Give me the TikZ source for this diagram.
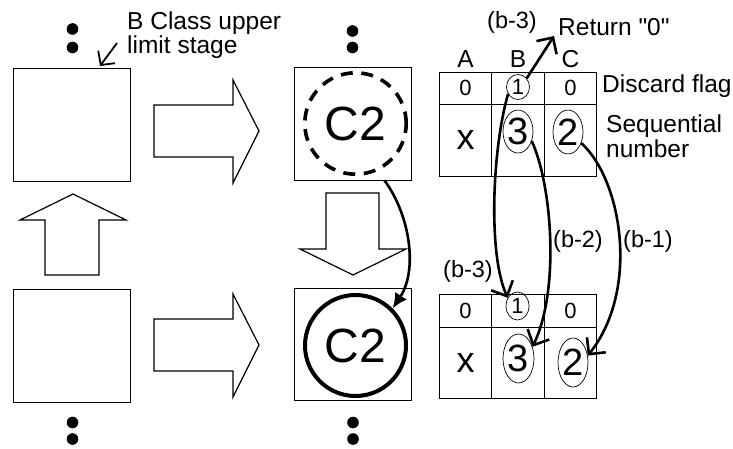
\documentclass[tikz,border=0pt]{standalone}
\usepackage{fontspec}
\setmainfont{Liberation Sans}
\usetikzlibrary{arrows.meta,shapes.geometric}
\newcommand\fsz[1]{\fontsize{#1}{#1}\selectfont}
\begin{document}
\begin{tikzpicture}[x=1pt,y=-1pt,
box/.style={draw,line width=0.9pt,minimum width=117pt,minimum height=113pt,inner sep=0},
cell/.style={draw,line width=0.9pt,minimum width=52.5pt,inner sep=0},
oval/.style={draw,ellipse,line width=0.7pt,inner sep=0},
lbl/.style={inner sep=0,font=\fsz{24.5}},
fat/.style={draw,line width=1.2pt,fill=white},
barb/.style={line width=2.6pt,-{Straight Barb[length=12pt,width=24pt]}}]
\useasboundingbox(0,0)rectangle(733,449);
\node[box](lbox-up)at(71.5,124.5){};
\node[box](lbox-lo)at(71.5,345.5){};
\node[box](mbox-up)at(352.5,123.5){};
\node[box,minimum height=112pt](mbox-lo)at(352.5,344){};
\foreach \y in {131,345}
  \draw[fat](154,\y-26)--++(79,0)--++(0,-25)--(259,\y)--(233,\y+52)--++(0,-26)--++(-79,0)--cycle;
\draw[fat](45,275)--(45,220)--(20,220)--(73,194)--(126,220)--(99,220)--(99,275)--cycle;
\draw[fat](326,193)--(379,193)--(379,249)--(406,249)--(353,275)--(300,249)--(326,249)--cycle;
\foreach \x/\y in {72.5/29,72.5/47.5,352.5/31,352.5/47.5,72.5/422.5,72.5/439,353/422.5,353/439}
  \fill(\x,\y)circle(5.8pt);
\node[circle,draw,line width=3.6pt,dash pattern=on 12pt off 8.6pt,minimum size=101.4pt,inner sep=0,font=\fsz{48}](c2old)at(355.5,123.5){C2};
\node[circle,draw,line width=4pt,minimum size=101pt,inner sep=0,font=\fsz{48}](c2new)at(355.5,345.5){C2};
\draw[line width=2.6pt,-{Latex[length=15pt,width=14pt]}]([xshift=32pt]mbox-up.south)..controls(410,215)and(418,270)..(c2new.45);
\node[lbl,anchor=north west,align=left,font=\fontsize{24.5}{21}\selectfont](bcls)at(127,11.5){B Class upper\\limit stage};
\coordinate(bcls-tail)at(117,43);
\coordinate(bcls-tip)at(100,66);
\draw[line width=1.8pt,-{Straight Barb[length=10pt,width=21pt]}](bcls-tail)--(bcls-tip);
\foreach \c/\x/\p/\q in {A/465.5/0/x,B/518/{}/{},C/570.5/0/{}}{
  \node[lbl](col\c)at(\x,59.5){\c};
  \node[cell,minimum height=32pt,font=\fsz{22}](ta\c1)at(\x,88){\p};
  \node[cell,minimum height=72pt,font=\fsz{36}](ta\c2)at(\x,140){\q};
  \node[cell,minimum height=33pt,font=\fsz{22}](tb\c1)at(\x,310.5){\p};
  \node[cell,minimum height=71pt,font=\fsz{36}](tb\c2)at(\x,362.5){\q};
}
\node[oval,minimum width=23pt,minimum height=25pt,font=\fsz{22}](a1)at(518,87){1};
\node[oval,minimum width=30pt,minimum height=43pt,font=\fsz{38}](a3)at(518,131.5){3};
\node[oval,minimum width=30pt,minimum height=44pt,font=\fsz{38}](a2)at(568,132){2};
\node[oval,minimum width=23pt,minimum height=28pt,font=\fsz{22}](b1)at(517.5,306){1};
\node[oval,minimum width=31pt,minimum height=49pt,font=\fsz{38}](b3)at(518.5,358.5){3};
\node[oval,minimum width=30pt,minimum height=49pt,font=\fsz{38}](b2)at(573,362.5){2};
\node[lbl,anchor=west](flag)at(602,86){Discard flag};
\node[lbl,anchor=north west,align=left,font=\fontsize{24.5}{25}\selectfont](seq)at(606,115){Sequential\\number};
\node[lbl,anchor=west](ret-txt)at(558,27){Return \textquotedbl0\textquotedbl};
\node[lbl,font=\fsz{23.5}](lb3top)at(512,22.5){(b-3)};
\node[lbl,font=\fsz{23.5}](lb3)at(468,271){(b-3)};
\node[lbl,font=\fsz{23.5}](lb2)at(578,241){(b-2)};
\node[lbl,font=\fsz{23.5}](lb1)at(648,241){(b-1)};
\coordinate(ret)at(554,36);
\draw[barb](a1.45)--(ret);
\draw[barb](a1.215)..controls(492,150)and(488,255)..(b1.140);
\draw[barb](a3.-35)..controls(552,185)and(560,290)..(b3.40);
\draw[barb](a2.-40)..controls(622,180)and(640,290)..(b2.25);
\end{tikzpicture}
\end{document}
